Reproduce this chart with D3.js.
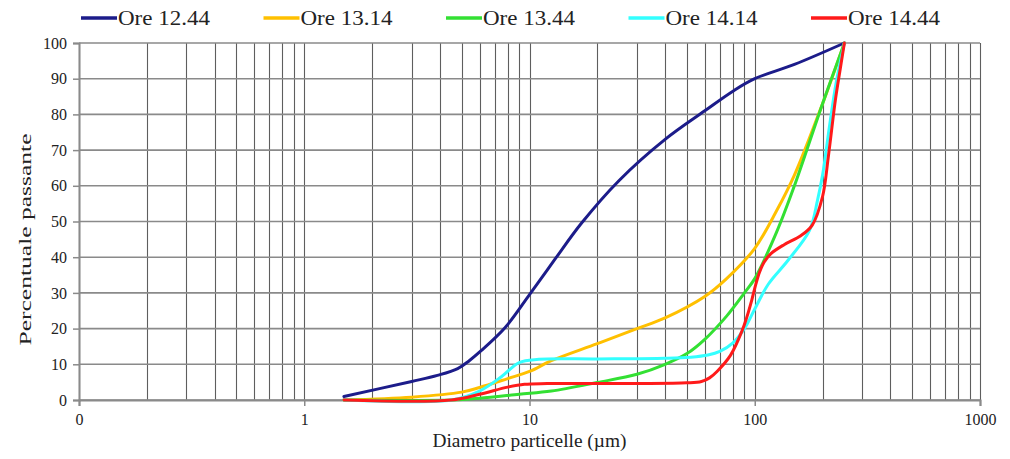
<!DOCTYPE html>
<html>
<head>
<meta charset="utf-8">
<script src="https://cdn.jsdelivr.net/npm/d3@7"></script>
<style>
  body { margin: 0; background: #fff; }
  svg text { font-family: "Liberation Serif", "DejaVu Serif", serif; fill: #222; }
</style>
</head>
<body>
<div id="chart"></div>
<script>
// curve data: particle diameter (um) and % passing
var ore1244Size = [1.5, 3, 3.9, 4.8, 5.4, 6.1, 7.8, 10, 13, 17, 25, 40, 60, 80, 100, 150, 250];
var ore1244Pass = [1, 5.2, 6.9, 8.8, 11, 13.8, 20.3, 29.5, 39.5, 49.5, 61.5, 73, 81, 86.5, 90, 94, 100];

var ore1314Size = [1.5, 3, 5, 6, 8, 10, 12.5, 20, 30, 40, 60, 75, 100, 125, 150, 200, 250];
var ore1314Pass = [0, 0.8, 2.2, 3.5, 6, 8, 11, 15.8, 20, 23, 29, 34, 42.5, 53, 63, 83, 100];

var ore1344Size = [1.5, 4.5, 6, 9, 12.5, 20, 30, 40, 50, 60, 75, 90, 100, 125, 150, 200, 250];
var ore1344Pass = [0, 0, 0.5, 1.6, 2.5, 4.9, 7.2, 10, 13, 17, 23.5, 30, 34, 47, 60, 83, 100];

var ore1414Size = [1.5, 4.5, 6, 7.5, 9, 11, 20, 40, 52, 62, 70, 80, 90, 100, 115, 140, 175, 190, 200, 215, 230, 250];
var ore1414Pass = [0, 0, 2.5, 6.5, 10.5, 11.4, 11.5, 11.7, 12, 12.6, 13.6, 16, 20, 25.5, 32.5, 39, 47.5, 56, 63, 77, 89, 100];

var ore1444Size = [1.5, 4.5, 6, 8, 9.5, 12, 30, 50, 58, 63, 68, 78, 88, 92, 97, 101, 105, 110, 118, 135, 160, 180, 200, 212, 228, 240, 250];
var ore1444Pass = [0, 0, 1.6, 3.6, 4.4, 4.6, 4.6, 4.8, 5.2, 6.2, 8, 12.5, 19.5, 23, 28, 32.3, 35.8, 38.6, 41, 43.5, 46, 49, 57, 68, 84, 93, 100];

var seriesNames = ['Ore 12.44', 'Ore 13.14', 'Ore 13.44', 'Ore 14.14', 'Ore 14.44'];
var seriesColors = ['#1c1c8a', '#ffc000', '#33e033', '#33ffff', '#ff1a1a'];

var xTickValues = [0.1, 1, 10, 100, 1000];
var xTickLabels = ['0', '1', '10', '100', '1000'];
var yTickValues = [0, 10, 20, 30, 40, 50, 60, 70, 80, 90, 100];

var series = [
  [ore1244Size, ore1244Pass],
  [ore1314Size, ore1314Pass],
  [ore1344Size, ore1344Pass],
  [ore1414Size, ore1414Pass],
  [ore1444Size, ore1444Pass]
].map(function(s, i) {
  return {
    name: seriesNames[i],
    color: seriesColors[i],
    points: s[0].map(function(d, j) { return { d: d, v: s[1][j] }; })
  };
});

var width = 1010, height = 459;
var margin = { top: 43, right: 30, bottom: 60, left: 79 };

var svg = d3.select('#chart').append('svg')
  .attr('width', width)
  .attr('height', height);

var x = d3.scaleLog().domain([0.1, 1000]).range([margin.left, width - margin.right]);
var y = d3.scaleLinear().domain([0, 100]).range([height - margin.bottom + 1, margin.top]);

// minor grid values for the log axis (1..9 in each decade)
var gridX = [];
[0.1, 1, 10, 100].forEach(function(base) {
  for (var m = 1; m < 10; m++) gridX.push(base * m);
});
gridX.push(1000);

svg.append('g').selectAll('line')
  .data(gridX)
  .enter()
  .append('line')
  .attr('x1', function(d) { return Math.round(x(d)) + 0.5; })
  .attr('x2', function(d) { return Math.round(x(d)) + 0.5; })
  .attr('y1', y(100))
  .attr('y2', y(0))
  .attr('stroke', '#5e5e5e')
  .attr('stroke-width', 1.1);

svg.append('g').selectAll('line')
  .data(yTickValues)
  .enter()
  .append('line')
  .attr('x1', x(0.1))
  .attr('x2', x(1000))
  .attr('y1', function(d) { return y(d); })
  .attr('y2', function(d) { return y(d); })
  .attr('stroke', '#8a8a8a')
  .attr('stroke-width', 1.6);

// axes
var yAxis = svg.append('g')
  .attr('transform', 'translate(' + x(0.1) + ',0)')
  .call(d3.axisLeft(y).tickValues(yTickValues).tickSize(6).tickPadding(6));

var xAxis = svg.append('g')
  .attr('transform', 'translate(0,' + y(0) + ')')
  .call(d3.axisBottom(x).tickValues(xTickValues).tickSize(6).tickPadding(8)
    .tickFormat(function(d, i) { return xTickLabels[i]; }));

[yAxis, xAxis].forEach(function(g) {
  g.select('.domain').attr('stroke', '#8a8a8a').attr('stroke-width', 2);
  g.selectAll('.tick line').attr('stroke', '#8a8a8a').attr('stroke-width', 1.5);
  g.selectAll('.tick text')
    .style('font-family', '"Liberation Serif", serif')
    .style('font-size', '16px')
    .attr('fill', '#3a3a3a');
});

// curves (smoothed like the spreadsheet lines)
var line = d3.line()
  .x(function(p) { return x(p.d); })
  .y(function(p) { return y(p.v); })
  .curve(d3.curveCatmullRom.alpha(0.5));

svg.append('g').selectAll('path')
  .data(series)
  .enter()
  .append('path')
  .attr('d', function(s) { return line(s.points); })
  .attr('fill', 'none')
  .attr('stroke', function(s) { return s.color; })
  .attr('stroke-width', 3)
  .attr('stroke-linejoin', 'round')
  .attr('stroke-linecap', 'round');

// axis titles
svg.append('text')
  .attr('x', (x(0.1) + x(1000)) / 2)
  .attr('y', 447)
  .attr('text-anchor', 'middle')
  .attr('textLength', 194)
  .attr('lengthAdjust', 'spacingAndGlyphs')
  .style('font-size', '19px')
  .text('Diametro particelle (\u00b5m)');

svg.append('text')
  .attr('transform', 'translate(31,' + (y(50) + 18) + ') rotate(-90)')
  .attr('text-anchor', 'middle')
  .attr('textLength', 212)
  .attr('lengthAdjust', 'spacingAndGlyphs')
  .style('font-size', '17px')
  .text('Percentuale passante');

// legend
var legend = svg.append('g').selectAll('g')
  .data(series)
  .enter()
  .append('g')
  .attr('transform', function(s, i) { return 'translate(' + (81 + i * 182.5) + ',18)'; });

legend.append('line')
  .attr('x1', 0).attr('x2', 36)
  .attr('stroke', function(s) { return s.color; })
  .attr('stroke-width', 3.5);

legend.append('text')
  .attr('x', 37)
  .attr('dy', '0.35em')
  .attr('textLength', 92)
  .attr('lengthAdjust', 'spacingAndGlyphs')
  .style('font-size', '20px')
  .text(function(s) { return s.name; });
</script>
</body>
</html>
